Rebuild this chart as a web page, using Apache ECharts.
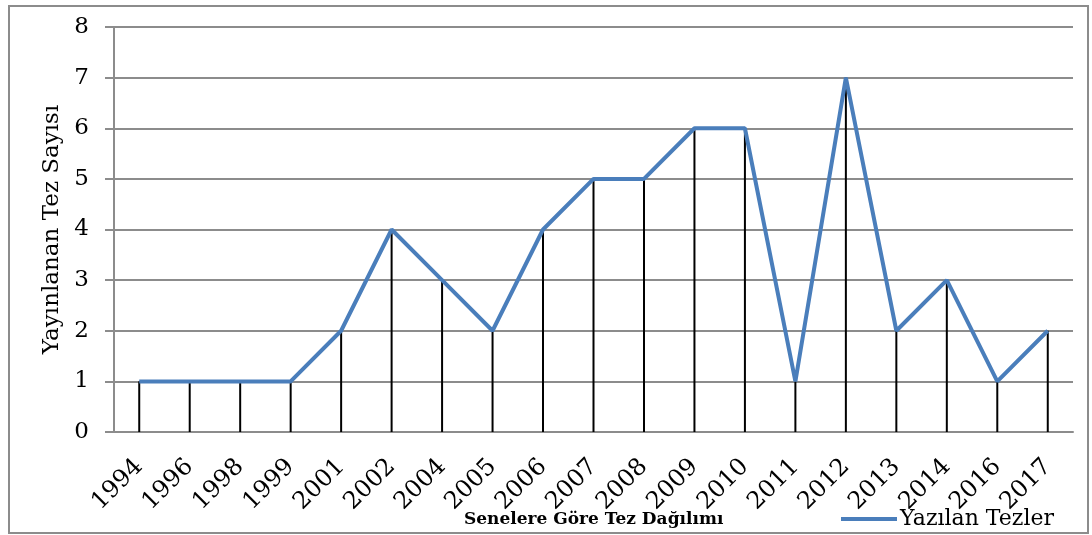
<!DOCTYPE html>
<html>
<head>
<meta charset="utf-8">
<script src="https://cdn.jsdelivr.net/npm/echarts@6/dist/echarts.min.js"></script>
<style>
html, body { margin: 0; padding: 0; background: #fff; }
#chart { width: 1092px; height: 535px; }
</style>
</head>
<body>
<div id="chart"></div>
<script>
var years = ['1994', '1996', '1998', '1999', '2001', '2002', '2004', '2005', '2006', '2007',
    '2008', '2009', '2010', '2011', '2012', '2013', '2014', '2016', '2017'];
var tezler = [1, 1, 1, 1, 2, 4, 3, 2, 4, 5, 5, 6, 6, 1, 7, 2, 3, 1, 2];

var fontName = '"DejaVu Serif", "Liberation Serif", serif';

var myChart = echarts.init(document.getElementById('chart'), null, { renderer: 'canvas' });

var option = {
    animation: false,
    title: {
        text: 'Senelere Göre Tez Dağılımı',
        left: 459,
        top: 506,
        textStyle: { fontFamily: fontName, fontSize: 17, fontWeight: 'bold', color: '#000' }
    },
    legend: {
        data: ['Yazılan Tezler'],
        left: 836,
        top: 503,
        itemWidth: 56,
        itemHeight: 4,
        itemGap: 4,
        textStyle: { fontFamily: fontName, fontSize: 22, color: '#000', padding: [0, 0, 0, -2] },
        icon: 'rect'
    },
    graphic: [{
        type: 'rect',
        shape: { x: 9, y: 6, width: 1079, height: 527 },
        style: { fill: null, stroke: '#8c8c8c', lineWidth: 2 },
        silent: true
    }],
    grid: {
        left: 114,
        top: 27,
        right: 19,
        bottom: 103
    },
    xAxis: {
        type: 'category',
        data: years,
        axisLine: { lineStyle: { color: '#8c8c8c', width: 2 } },
        axisTick: { show: false },
        axisLabel: {
            rotate: 45,
            margin: 31,
            fontFamily: fontName,
            fontSize: 24,
            color: '#000'
        }
    },
    yAxis: {
        type: 'value',
        min: 0,
        max: 8,
        interval: 1,
        name: 'Yayınlanan Tez Sayısı',
        nameLocation: 'middle',
        nameGap: 50,
        nameTextStyle: { fontFamily: fontName, fontSize: 23, color: '#000' },
        axisLine: { show: true, lineStyle: { color: '#8c8c8c', width: 2 } },
        axisTick: { show: true, length: 9, lineStyle: { color: '#8c8c8c', width: 2 } },
        splitLine: { lineStyle: { color: '#8c8c8c', width: 2 } },
        axisLabel: {
            margin: 25,
            fontFamily: fontName,
            fontSize: 23,
            color: '#000'
        }
    },
    series: [{
        name: 'dropLines',
        type: 'bar',
        data: tezler,
        barWidth: 2,
        itemStyle: { color: '#000' },
        silent: true,
        z: 2
    }, {
        name: 'Yazılan Tezler',
        type: 'line',
        data: tezler,
        symbol: 'none',
        lineStyle: { color: '#4a7ebb', width: 4 },
        itemStyle: { color: '#4a7ebb' },
        z: 3
    }]
};

myChart.setOption(option);
window.addEventListener('resize', myChart.resize);
</script>
</body>
</html>
